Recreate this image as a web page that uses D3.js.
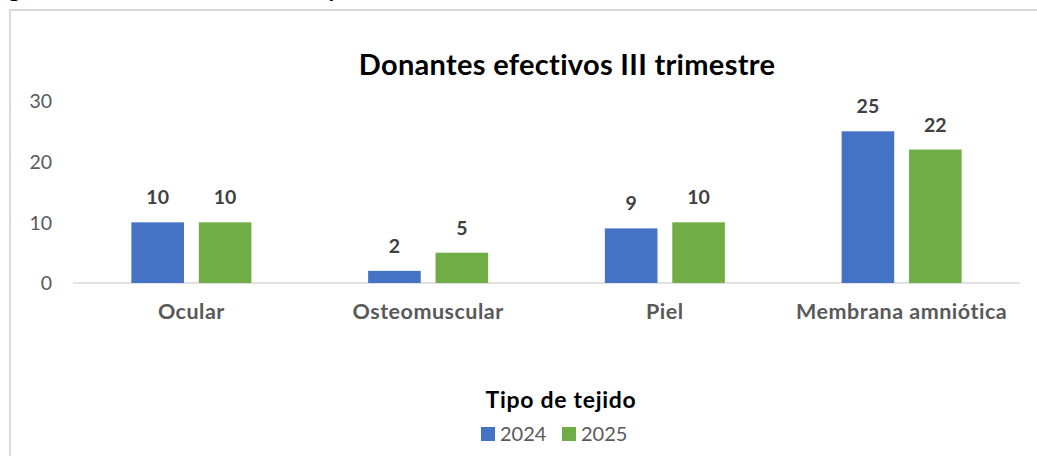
<!DOCTYPE html>
<html>
<head>
<meta charset="utf-8">
<script src="https://cdn.jsdelivr.net/npm/d3@7"></script>
<style>
  html, body { margin: 0; padding: 0; background: #fff; }
  svg { display: block; }
  text { font-family: Lato, "Open Sans", sans-serif; }
</style>
</head>
<body>
<svg id="chart" width="1037" height="456"></svg>
<script>
const categories = ["Ocular", "Osteomuscular", "Piel", "Membrana amniótica"];
const seriesNames = ["2024", "2025"];
const values2024 = [10, 2, 9, 25];
const values2025 = [10, 5, 10, 22];
const yTicks = [0, 10, 20, 30];
const chartTitle = "Donantes efectivos III trimestre";
const axisTitle = "Tipo de tejido";
const colors = ["#4472C4", "#70AD47"];

const svg = d3.select("#chart");
const W = 1037, H = 456;

// fragment of caption above (cut off in the reference)
svg.append("text").attr("x", 8).attr("y", -3).attr("font-size", 24).attr("font-weight", 700).attr("fill", "#000").text("g");
svg.append("text").attr("x", 327).attr("y", -3).attr("font-size", 24).attr("font-weight", 700).attr("fill", "#000").text("y");

// chart frame
svg.append("rect").attr("x", 10).attr("y", 10).attr("width", W + 20).attr("height", H + 20)
  .attr("fill", "none").attr("stroke", "#d9d9d9").attr("stroke-width", 2);

const plot = { left: 73, right: 1020, top: 101, bottom: 283 };

const x0 = d3.scaleBand().domain(categories).range([plot.left, plot.right]).paddingInner(0).paddingOuter(0);
const x1 = d3.scaleBand().domain(seriesNames).range([0, 120]).paddingInner(0.22);
const y = d3.scaleLinear().domain([0, 30]).range([plot.bottom, plot.top]);

// y axis labels
const yAxis = d3.axisLeft(y).tickValues(yTicks).tickSize(0).tickPadding(0);
const yg = svg.append("g").attr("transform", `translate(52,0)`).call(yAxis);
yg.select(".domain").remove();
yg.selectAll("text").attr("font-family", "Lato, sans-serif").attr("font-size", 19.5).attr("fill", "#595959").attr("dy", "0.35em");

// baseline
svg.append("line").attr("x1", plot.left).attr("x2", plot.right).attr("y1", y(0)).attr("y2", y(0))
  .attr("stroke", "#d9d9d9").attr("stroke-width", 1.5);

const data = categories.map((c, i) => ({ cat: c, vals: [values2024[i], values2025[i]] }));

const groups = svg.selectAll(".grp").data(data).join("g")
  .attr("transform", d => `translate(${x0(d.cat) + x0.bandwidth() / 2 - 60},0)`);

groups.selectAll("rect").data(d => d.vals.map((v, j) => ({ s: seriesNames[j], v, j }))).join("rect")
  .attr("x", d => x1(d.s)).attr("width", x1.bandwidth())
  .attr("y", d => y(d.v)).attr("height", d => y(0) - y(d.v))
  .attr("fill", d => colors[d.j]);

groups.selectAll(".lbl").data(d => d.vals.map((v, j) => ({ s: seriesNames[j], v, j }))).join("text")
  .attr("class", "lbl")
  .attr("x", d => x1(d.s) + x1.bandwidth() / 2).attr("y", d => y(d.v) - 18)
  .attr("text-anchor", "middle").attr("font-size", 19.5).attr("font-weight", 700).attr("fill", "#404040")
  .text(d => d.v);

// x axis category labels
const xAxis = d3.axisBottom(x0).tickSize(0).tickPadding(0);
const xg = svg.append("g").attr("transform", `translate(0,${plot.bottom})`).call(xAxis);
xg.select(".domain").remove();
xg.selectAll("text").attr("font-family", "Lato, sans-serif").attr("font-size", 21.5).attr("font-weight", 700)
  .attr("letter-spacing", 0.5).attr("fill", "#595959").attr("dy", 0).attr("y", 36);

// title
svg.append("text").attr("x", 567).attr("y", 75).attr("text-anchor", "middle")
  .attr("font-size", 29).attr("font-weight", 700).attr("letter-spacing", 0.3).attr("fill", "#000").text(chartTitle);

// axis title
svg.append("text").attr("x", 561).attr("y", 408).attr("text-anchor", "middle")
  .attr("font-size", 23).attr("font-weight", 700).attr("letter-spacing", 0.7).attr("fill", "#000").text(axisTitle);

// legend
const legendX = [481, 562];
const lg = svg.selectAll(".leg").data(seriesNames).join("g").attr("class", "leg")
  .attr("transform", (d, i) => `translate(${legendX[i]},427)`);
lg.append("rect").attr("width", 14).attr("height", 14).attr("fill", (d, i) => colors[i]);
lg.append("text").attr("x", 19).attr("y", 14).attr("font-size", 20).attr("fill", "#595959").text(d => d);
</script>
</body>
</html>
